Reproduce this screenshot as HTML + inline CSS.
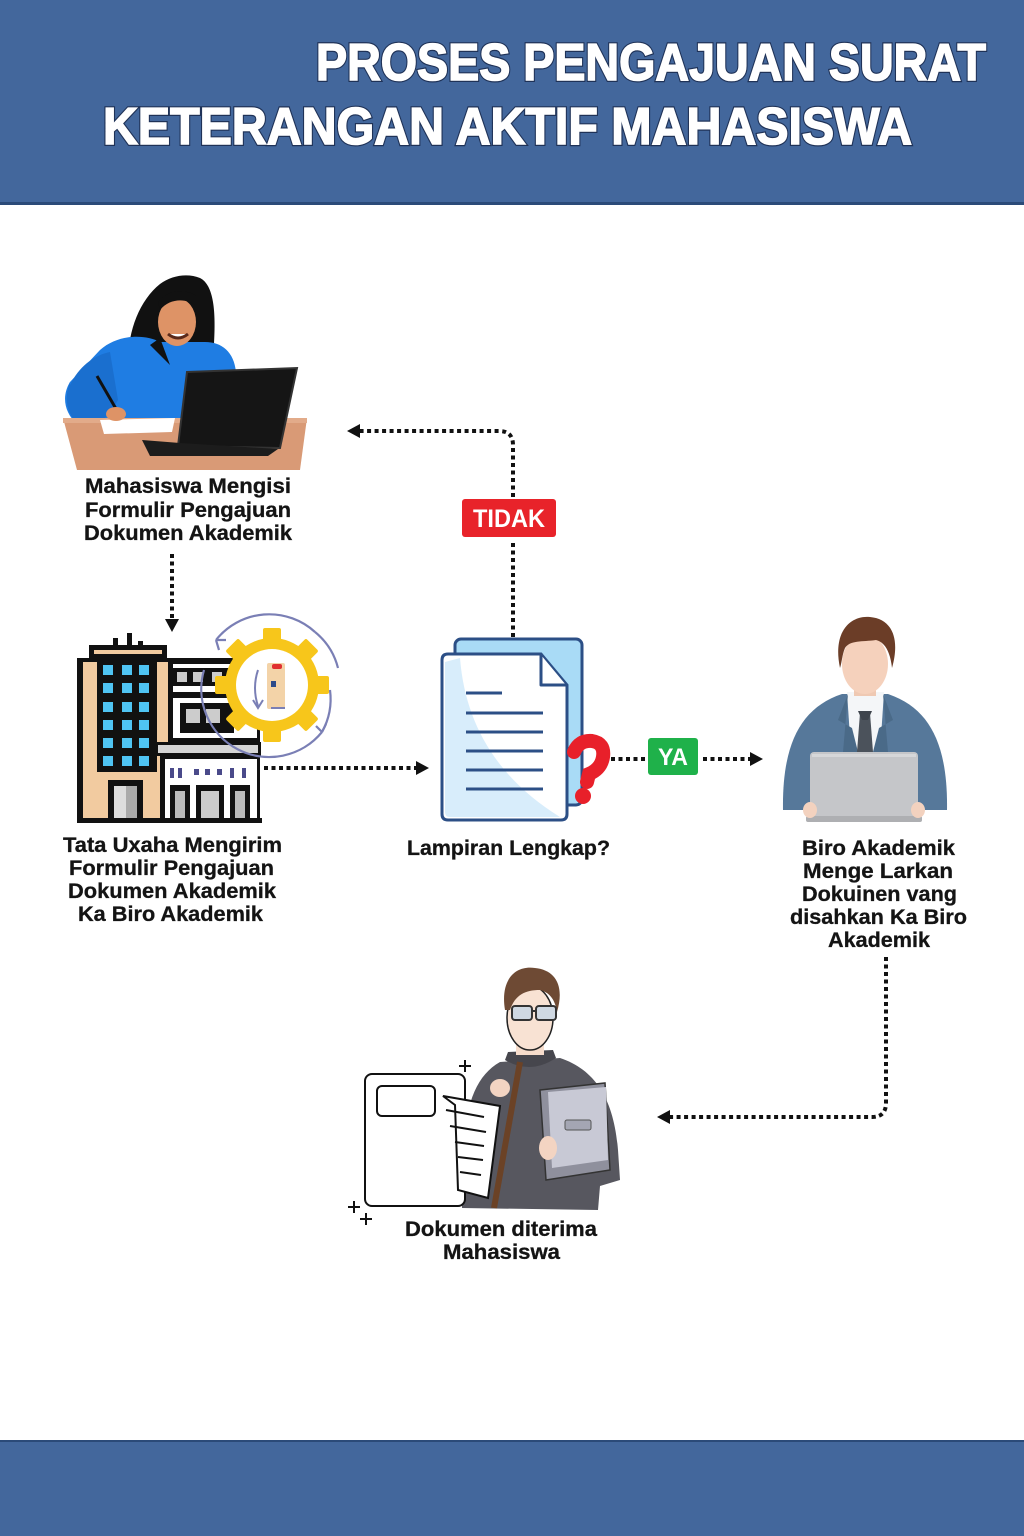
<!DOCTYPE html>
<html><head><meta charset="utf-8"><style>
html,body{margin:0;padding:0;background:#fff;}
svg{display:block;}
.lb{font-family:"Liberation Sans",Arial,sans-serif;font-weight:bold;fill:#141414;font-size:21px;stroke:#141414;stroke-width:0.3px;}
.dot{fill:none;stroke:#111;stroke-width:4;stroke-dasharray:4 3.5;}
</style></head><body>
<svg width="1024" height="1536" viewBox="0 0 1024 1536" xmlns="http://www.w3.org/2000/svg">
<!-- header -->
<rect x="0" y="0" width="1024" height="204" fill="#43679c"/>
<rect x="0" y="202" width="1024" height="3" fill="#2b4a78"/>
<g font-family="'Liberation Sans',Arial,sans-serif" font-weight="bold" font-size="52" fill="#fff" stroke="#1f3257" stroke-width="4" paint-order="stroke">
<text x="316" y="80" textLength="670" lengthAdjust="spacingAndGlyphs">PROSES PENGAJUAN SURAT</text>
<text x="103" y="144" textLength="809" lengthAdjust="spacingAndGlyphs">KETERANGAN AKTIF MAHASISWA</text>
</g>
<g font-family="'Liberation Sans',Arial,sans-serif" font-weight="bold" font-size="52" fill="#fff" stroke="#fff" stroke-width="1.6">
<text x="316" y="80" textLength="670" lengthAdjust="spacingAndGlyphs">PROSES PENGAJUAN SURAT</text>
<text x="103" y="144" textLength="809" lengthAdjust="spacingAndGlyphs">KETERANGAN AKTIF MAHASISWA</text>
</g>
<!-- footer -->
<rect x="0" y="1441" width="1024" height="95" fill="#43679c"/>
<rect x="0" y="1440" width="1024" height="2" fill="#2b4a78"/>

<!-- ===== Woman at laptop ===== -->
<g>
<path d="M128,362 C128,330 140,300 160,284 C172,275 188,273 200,278 C214,285 216,312 214,345 L222,362 Z" fill="#111"/>
<path d="M100,350 C118,334 145,334 160,342 L205,342 C222,342 234,352 236,372 L236,420 L78,425 C63,412 62,395 70,382 Z" fill="#1f7de3"/>
<path d="M70,385 C80,365 95,355 110,352 L118,400 C112,410 108,418 100,420 L78,425 C66,412 64,398 70,382 Z" fill="#1a6fcf"/>
<path d="M150,345 L160,338 L170,365 Z" fill="#111"/>
<ellipse cx="177" cy="322" rx="19" ry="24" fill="#de9366"/>
<path d="M158,302 C166,290 185,288 197,296 L197,306 C186,298 170,298 160,310 Z" fill="#111"/>
<path d="M168,334 Q178,342 188,334" stroke="#5a2a1a" stroke-width="3" fill="#fff"/>
<path d="M63,418 L307,418 L300,470 L77,470 Z" fill="#d99a76"/>
<rect x="63" y="418" width="244" height="5" fill="#e2ab8a"/>
<path d="M100,420 L175,418 L172,432 L104,434 Z" fill="#fff"/>
<line x1="97" y1="376" x2="119" y2="414" stroke="#111" stroke-width="3"/>
<ellipse cx="116" cy="414" rx="10" ry="7" fill="#de9366"/>
<path d="M187,372 L297,368 L280,448 L178,446 Z" fill="#151515" stroke="#333" stroke-width="2"/>
<path d="M142,440 L180,443 L278,449 L268,456 L150,456 Z" fill="#1c1c1c"/>
</g>
<text class="lb" x="85" y="493" textLength="206" lengthAdjust="spacingAndGlyphs">Mahasiswa Mengisi</text>
<text class="lb" x="85" y="517" textLength="206" lengthAdjust="spacingAndGlyphs">Formulir Pengajuan</text>
<text class="lb" x="84" y="540" textLength="208" lengthAdjust="spacingAndGlyphs">Dokumen Akademik</text>

<!-- arrow down -->
<path class="dot" d="M172,554 V620"/>
<polygon points="165,619 179,619 172,632" fill="#111"/>

<!-- ===== Building ===== -->
<g>
<rect x="113" y="638" width="5" height="10" fill="#111"/>
<rect x="127" y="633" width="5" height="15" fill="#111"/>
<rect x="138" y="641" width="5" height="7" fill="#111"/>
<rect x="89" y="645" width="78" height="14" fill="#111"/>
<rect x="94" y="650" width="68" height="4" fill="#f2cba0"/>
<rect x="77" y="658" width="98" height="165" fill="#111"/>
<rect x="83" y="662" width="86" height="156" fill="#f2cba0"/>
<rect x="97" y="662" width="60" height="110" fill="#111"/>
<g fill="#4fc4f3">
<rect x="103" y="665" width="10" height="10"/><rect x="122" y="665" width="10" height="10"/><rect x="139" y="665" width="10" height="10"/>
<rect x="103" y="683" width="10" height="10"/><rect x="122" y="683" width="10" height="10"/><rect x="139" y="683" width="10" height="10"/>
<rect x="103" y="702" width="10" height="10"/><rect x="122" y="702" width="10" height="10"/><rect x="139" y="702" width="10" height="10"/>
<rect x="103" y="720" width="10" height="10"/><rect x="122" y="720" width="10" height="10"/><rect x="139" y="720" width="10" height="10"/>
<rect x="103" y="738" width="10" height="10"/><rect x="122" y="738" width="10" height="10"/><rect x="139" y="738" width="10" height="10"/>
<rect x="103" y="756" width="10" height="10"/><rect x="122" y="756" width="10" height="10"/><rect x="139" y="756" width="10" height="10"/>
</g>
<rect x="108" y="780" width="35" height="40" fill="#111"/>
<rect x="114" y="786" width="12" height="32" fill="#ddd"/><rect x="126" y="786" width="11" height="32" fill="#aaa"/>
<!-- right building -->
<rect x="168" y="658" width="92" height="84" fill="#111"/>
<rect x="173" y="664" width="84" height="74" fill="#fff"/>
<rect x="173" y="668" width="84" height="18" fill="#111"/>
<rect x="177" y="672" width="10" height="10" fill="#ccc"/><rect x="193" y="672" width="10" height="10" fill="#ccc"/><rect x="212" y="672" width="10" height="10" fill="#ccc"/>
<rect x="173" y="692" width="84" height="6" fill="#111"/>
<rect x="180" y="703" width="54" height="30" fill="#111"/>
<rect x="186" y="709" width="14" height="14" fill="#ccc"/><rect x="206" y="709" width="14" height="14" fill="#ccc"/>
<rect x="155" y="742" width="106" height="14" fill="#111"/>
<rect x="158" y="745" width="100" height="8" fill="#d5d5d5"/>
<rect x="160" y="756" width="100" height="67" fill="#111"/>
<rect x="165" y="759" width="92" height="59" fill="#fff"/>
<g fill="#4a4a8a">
<rect x="170" y="768" width="4" height="10"/><rect x="178" y="768" width="4" height="10"/><rect x="194" y="769" width="5" height="6"/><rect x="205" y="769" width="5" height="6"/><rect x="217" y="769" width="5" height="6"/><rect x="230" y="768" width="4" height="10"/><rect x="242" y="768" width="4" height="10"/>
</g>
<rect x="170" y="785" width="20" height="35" fill="#111"/><rect x="175" y="791" width="10" height="27" fill="#bbb"/>
<rect x="196" y="785" width="28" height="35" fill="#111"/><rect x="201" y="791" width="18" height="27" fill="#ccc"/>
<rect x="230" y="785" width="20" height="35" fill="#111"/><rect x="235" y="791" width="10" height="27" fill="#bbb"/>
<rect x="77" y="818" width="185" height="5" fill="#111"/>
</g>
<!-- gear -->
<g>
<g fill="#f7c61b" transform="translate(272,685)">
<circle r="47"/>
<rect x="-9" y="-57" width="18" height="16" rx="2"/>
<rect x="-9" y="-57" width="18" height="16" rx="2" transform="rotate(45)"/>
<rect x="-9" y="-57" width="18" height="16" rx="2" transform="rotate(90)"/>
<rect x="-9" y="-57" width="18" height="16" rx="2" transform="rotate(135)"/>
<rect x="-9" y="-57" width="18" height="16" rx="2" transform="rotate(180)"/>
<rect x="-9" y="-57" width="18" height="16" rx="2" transform="rotate(225)"/>
<rect x="-9" y="-57" width="18" height="16" rx="2" transform="rotate(270)"/>
<rect x="-9" y="-57" width="18" height="16" rx="2" transform="rotate(315)"/>
</g>
<circle cx="272" cy="685" r="36" fill="#fff"/>
<rect x="267" y="663" width="18" height="46" rx="2" fill="#f3d3a8"/>
<rect x="272" y="664" width="10" height="5" rx="2" fill="#e03030"/>
<rect x="271" y="681" width="5" height="6" fill="#2c4a8a"/>
<rect x="271" y="707" width="14" height="2" fill="#7a7fb5"/>
<path d="M258,670 Q252,688 258,706" fill="none" stroke="#7a7fb5" stroke-width="2"/>
<path d="M253,700 L258,708 L263,700" fill="none" stroke="#7a7fb5" stroke-width="2"/>
<path d="M315,632 A68,68 0 0 0 216,640" fill="none" stroke="#7a7fb5" stroke-width="2.2"/>
<path d="M216,640 L226,640 M216,640 L219,650" stroke="#7a7fb5" stroke-width="2.2"/>
<path d="M204,670 A68,68 0 0 0 322,732" fill="none" stroke="#7a7fb5" stroke-width="2.2"/>
<path d="M330,690 A68,68 0 0 1 322,732" fill="none" stroke="#7a7fb5" stroke-width="2.2"/>
<path d="M322,732 L316,726 M322,732 L326,724" stroke="#7a7fb5" stroke-width="2.2"/>
<path d="M315,632 A68,68 0 0 1 338,668" fill="none" stroke="#7a7fb5" stroke-width="2.2"/>
</g>
<text class="lb" x="63" y="852" textLength="219" lengthAdjust="spacingAndGlyphs">Tata Uxaha Mengirim</text>
<text class="lb" x="69" y="875" textLength="205" lengthAdjust="spacingAndGlyphs">Formulir Pengajuan</text>
<text class="lb" x="68" y="898" textLength="208" lengthAdjust="spacingAndGlyphs">Dokumen Akademik</text>
<text class="lb" x="78" y="921" textLength="185" lengthAdjust="spacingAndGlyphs">Ka Biro Akademik</text>

<!-- arrow right from building -->
<path class="dot" d="M264,768 H418"/>
<polygon points="416,761 416,775 429,768" fill="#111"/>

<!-- ===== TIDAK loop ===== -->
<path class="dot" d="M513,637 V542"/>
<path class="dot" d="M513,497 V445 Q513,431 499,431 H360"/>
<polygon points="347,431 360,424 360,438" fill="#111"/>
<rect x="462" y="499" width="94" height="38" rx="3" fill="#e8232a"/>
<text x="509" y="527" text-anchor="middle" font-family="'Liberation Sans',Arial,sans-serif" font-weight="bold" font-size="25" fill="#fff" textLength="72" lengthAdjust="spacingAndGlyphs">TIDAK</text>

<!-- ===== Document icon ===== -->
<rect x="455" y="639" width="127" height="166" rx="6" fill="#a9dbf6" stroke="#2c4f86" stroke-width="3"/>
<path d="M448,654 H541 L567,685 V814 Q567,820 561,820 H448 Q442,820 442,814 V660 Q442,654 448,654 Z" fill="#fff" stroke="#2c4f86" stroke-width="3"/>
<path d="M460,658 Q468,760 560,817 L450,817 Q445,817 445,812 V662 Z" fill="#d8edfb"/>
<path d="M541,655 V685 H566" fill="#fff" stroke="#2c4f86" stroke-width="3" stroke-linejoin="round"/>
<g stroke="#2c4f86" stroke-width="3">
<line x1="466" y1="693" x2="502" y2="693"/>
<line x1="466" y1="713" x2="543" y2="713"/>
<line x1="466" y1="732" x2="543" y2="732"/>
<line x1="466" y1="751" x2="543" y2="751"/>
<line x1="466" y1="770" x2="543" y2="770"/>
<line x1="466" y1="789" x2="543" y2="789"/>
</g>
<path d="M574,752 Q579,740 592,741 Q605,743 603,757 Q601,769 589,774 L587,782" fill="none" stroke="#e8202a" stroke-width="14" stroke-linecap="round"/>
<circle cx="583" cy="796" r="8" fill="#e8202a"/>
<text class="lb" x="407" y="855" textLength="203" lengthAdjust="spacingAndGlyphs">Lampiran Lengkap?</text>

<!-- YA -->
<path class="dot" d="M611,759 H646"/>
<rect x="648" y="738" width="50" height="37" rx="3" fill="#1fb14a"/>
<text x="673" y="765" text-anchor="middle" font-family="'Liberation Sans',Arial,sans-serif" font-weight="bold" font-size="24" fill="#fff" textLength="30" lengthAdjust="spacingAndGlyphs">YA</text>
<path class="dot" d="M703,759 H751"/>
<polygon points="750,752 750,766 763,759" fill="#111"/>

<!-- ===== Man at laptop ===== -->
<g>
<path d="M783,810 C782,745 800,708 842,694 L888,694 C930,708 948,745 947,810 Z" fill="#56789a"/>
<path d="M847,692 L884,692 L880,752 L851,752 Z" fill="#f4f6f8"/>
<path d="M848,694 L838,720 L852,728 L858,752 L843,752 Z" fill="#4a6a88"/>
<path d="M883,694 L893,720 L879,728 L873,752 L888,752 Z" fill="#4a6a88"/>
<rect x="854" y="682" width="22" height="14" fill="#efc9b3"/>
<ellipse cx="865" cy="664" rx="23" ry="30" fill="#f5d1bc"/>
<path d="M840,668 C832,630 852,615 870,617 C893,619 900,640 892,668 C890,650 884,642 876,640 C862,642 850,640 845,648 C842,655 842,662 840,668 Z" fill="#6b3d27"/>
<polygon points="860,713 870,713 873,752 857,752" fill="#4b525b"/>
<polygon points="858,711 872,711 868,720 862,720" fill="#3e444c"/>
<rect x="810" y="752" width="108" height="66" rx="4" fill="#c5c6c9"/>
<rect x="812" y="754" width="104" height="3" fill="#d6d7d9"/>
<rect x="806" y="816" width="116" height="6" rx="2" fill="#aeafb2"/>
<ellipse cx="810" cy="810" rx="7" ry="8" fill="#f3d2bf"/>
<ellipse cx="918" cy="810" rx="7" ry="8" fill="#f3d2bf"/>
</g>
<text class="lb" x="802" y="855" textLength="153" lengthAdjust="spacingAndGlyphs">Biro Akademik</text>
<text class="lb" x="803" y="878" textLength="150" lengthAdjust="spacingAndGlyphs">Menge Larkan</text>
<text class="lb" x="802" y="901" textLength="155" lengthAdjust="spacingAndGlyphs">Dokuinen vang</text>
<text class="lb" x="790" y="924" textLength="177" lengthAdjust="spacingAndGlyphs">disahkan Ka Biro</text>
<text class="lb" x="828" y="947" textLength="102" lengthAdjust="spacingAndGlyphs">Akademik</text>

<!-- arrow to student -->
<path class="dot" d="M886,957 V1103 Q886,1117 872,1117 H670"/>
<polygon points="657,1117 670,1110 670,1124" fill="#111"/>

<!-- ===== Student ===== -->
<g>
<path d="M462,1208 C460,1125 468,1080 500,1062 L560,1058 C596,1070 614,1100 618,1150 L620,1180 L600,1186 L598,1210 Z" fill="#57575f"/>
<path d="M505,1060 Q530,1075 556,1058 L553,1050 L508,1052 Z" fill="#46464d"/>
<line x1="520" y1="1062" x2="494" y2="1208" stroke="#6b4226" stroke-width="6"/>
<rect x="516" y="1035" width="28" height="20" fill="#f6dccb"/>
<ellipse cx="530" cy="1018" rx="23" ry="32" fill="#f8e2d3" stroke="#222" stroke-width="1.5"/>
<path d="M505,1010 C500,980 515,965 535,968 C555,970 565,985 557,1012 C555,998 548,992 540,990 C525,990 515,995 510,1010 Z" fill="#6e4a34"/>
<rect x="512" y="1006" width="20" height="14" rx="3" fill="#cfd8e2" stroke="#333" stroke-width="2"/>
<rect x="536" y="1006" width="20" height="14" rx="3" fill="#cfd8e2" stroke="#333" stroke-width="2"/>
<line x1="532" y1="1011" x2="536" y2="1011" stroke="#333" stroke-width="2"/>
<path d="M540,1090 L605,1083 L610,1170 L546,1180 Z" fill="#8f909d" stroke="#333" stroke-width="1.5"/>
<path d="M548,1092 L606,1087 L608,1160 L552,1168 Z" fill="#c8c9d5"/>
<rect x="565" y="1120" width="26" height="10" rx="2" fill="#a4a6b3" stroke="#555" stroke-width="1"/>
<ellipse cx="548" cy="1148" rx="9" ry="12" fill="#f3d4c2"/>
<ellipse cx="500" cy="1088" rx="10" ry="9" fill="#f3d4c2"/>
</g>
<g>
<rect x="365" y="1074" width="100" height="132" rx="7" fill="#fff" stroke="#111" stroke-width="2"/>
<rect x="377" y="1086" width="58" height="30" rx="5" fill="#fff" stroke="#111" stroke-width="2"/>
<path d="M443,1096 L500,1106 L488,1198 L458,1190 L455,1105 Z" fill="#fff" stroke="#111" stroke-width="2"/>
<g stroke="#111" stroke-width="2">
<line x1="446" y1="1110" x2="484" y2="1117"/>
<line x1="450" y1="1126" x2="486" y2="1132"/>
<line x1="455" y1="1142" x2="484" y2="1146"/>
<line x1="458" y1="1157" x2="483" y2="1160"/>
<line x1="460" y1="1172" x2="481" y2="1175"/>
</g>
<path d="M465,1060 V1072 M459,1066 H471" stroke="#111" stroke-width="2"/>
<path d="M354,1201 V1213 M348,1207 H360" stroke="#111" stroke-width="2"/>
<path d="M366,1213 V1225 M360,1219 H372" stroke="#111" stroke-width="2"/>
</g>
<text class="lb" x="405" y="1236" textLength="192" lengthAdjust="spacingAndGlyphs">Dokumen diterima</text>
<text class="lb" x="443" y="1259" textLength="117" lengthAdjust="spacingAndGlyphs">Mahasiswa</text>
</svg>
</body></html>
